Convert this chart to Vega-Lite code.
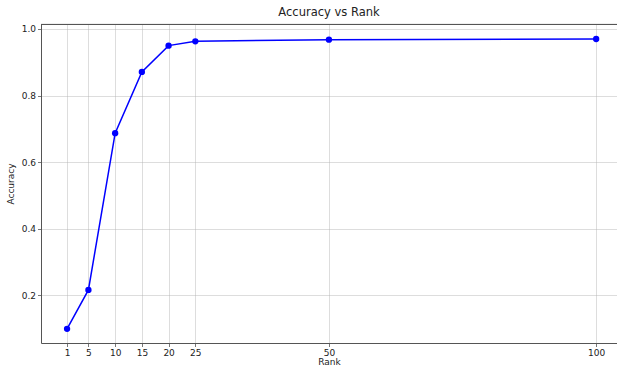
{
  "$schema": "https://vega.github.io/schema/vega-lite/v6.json",
  "autosize": {"type": "none"},
  "padding": {"left": 41, "top": 24, "right": 0, "bottom": 26},
  "width": 576,
  "height": 319,
  "background": "white",
  "config": {
    "font": "DejaVu Sans",
    "view": {"stroke": null},
    "axis": {
      "labelFont": "DejaVu Sans",
      "titleFont": "DejaVu Sans",
      "labelFontSize": 9,
      "titleFontSize": 9,
      "titleFontWeight": "normal",
      "labelColor": "#222",
      "titleColor": "#222",
      "domainColor": "#555",
      "domainWidth": 1,
      "tickColor": "#555",
      "tickSize": 3.5,
      "tickWidth": 0.8,
      "gridColor": "#b0b0b0",
      "gridOpacity": 0.55,
      "gridWidth": 0.8
    }
  },
  "title": {
    "text": "Accuracy vs Rank",
    "font": "DejaVu Sans",
    "fontSize": 11.5,
    "fontWeight": "normal",
    "color": "#222",
    "offset": 6,
    "anchor": "middle"
  },
  "data": {
    "values": [
      {"rank": 1, "accuracy": 0.099},
      {"rank": 5, "accuracy": 0.216},
      {"rank": 10, "accuracy": 0.687},
      {"rank": 15, "accuracy": 0.871},
      {"rank": 20, "accuracy": 0.950},
      {"rank": 25, "accuracy": 0.963},
      {"rank": 50, "accuracy": 0.968},
      {"rank": 100, "accuracy": 0.970}
    ]
  },
  "encoding": {
    "x": {
      "field": "rank",
      "type": "quantitative",
      "scale": {"domain": [-3.875, 103.9], "nice": false, "zero": false},
      "axis": {
        "title": "Rank",
        "values": [1, 5, 10, 15, 20, 25, 50, 100],
        "labelPadding": 2,
        "titlePadding": 0,
        "grid": true
      }
    },
    "y": {
      "field": "accuracy",
      "type": "quantitative",
      "scale": {"domain": [0.0565, 1.015], "nice": false, "zero": false},
      "axis": {
        "title": "Accuracy",
        "values": [0.2, 0.4, 0.6, 0.8, 1.0],
        "format": ".1f",
        "labelPadding": 2,
        "titlePadding": 6,
        "grid": true
      }
    }
  },
  "layer": [
    {
      "mark": {"type": "line", "color": "#0000ff", "strokeWidth": 1.5, "point": {"filled": true, "color": "#0000ff", "size": 40, "opacity": 1}}
    },
    {
      "mark": {"type": "rule", "color": "#555", "strokeWidth": 0.8},
      "encoding": {
        "x": {"datum": -3.875, "type": "quantitative"},
        "x2": {"datum": 103.9},
        "y": {"datum": 1.0135, "type": "quantitative"}
      }
    }
  ]
}
